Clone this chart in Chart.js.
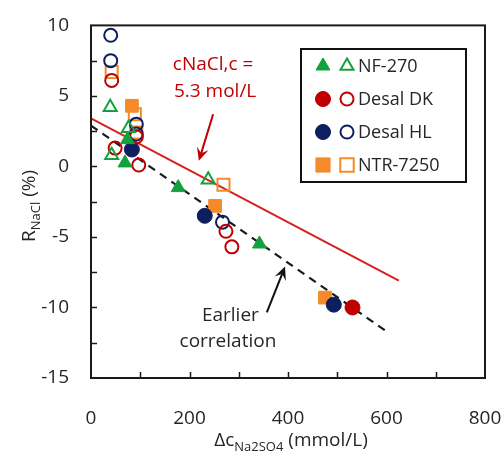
<!DOCTYPE html>
<html>
<head>
<meta charset="utf-8">
<script src="https://cdn.jsdelivr.net/npm/chart.js@4/dist/chart.umd.min.js"></script>
<style>
html,body{margin:0;padding:0;background:#fff;}
canvas{display:block;}
</style>
</head>
<body>
<canvas id="c" width="504" height="457"></canvas>
<script>
// ---- data ----
const nf270FilledX = [69, 74, 177, 342];
const nf270FilledY = [0.25, 1.9, -1.5, -5.5];
const nf270OpenX   = [39, 42, 76, 238];
const nf270OpenY   = [4.2, 0.8, 2.7, -0.94];

const desalDKFilledX = [531];
const desalDKFilledY = [-10.0];
const desalDKOpenX   = [42, 49, 97, 92, 274, 286];
const desalDKOpenY   = [6.1, 1.3, 0.1, 2.1, -4.6, -5.7];

const desalHLFilledX = [83, 231, 493];
const desalHLFilledY = [1.2, -3.5, -9.8];
const desalHLOpenX   = [40, 40, 92, 92, 267];
const desalHLOpenY   = [9.3, 7.5, 3.0, 2.3, -3.95];

const ntrFilledX = [83, 252, 475];
const ntrFilledY = [4.3, -2.8, -9.3];
const ntrOpenX   = [42, 89, 92, 269];
const ntrOpenY   = [6.7, 3.7, 2.4, -1.3];

const redLineX = [0, 625];
const redLineY = [3.4, -8.1];
const blackLineX = [0, 600];
const blackLineY = [2.9, -11.7];

const xTickValues = [0, 200, 400, 600, 800];
const yTickValues = [10, 5, 0, -5, -10, -15];
const legendLabels = ['NF-270', 'Desal DK', 'Desal HL', 'NTR-7250'];

// ---- styles ----
const GREEN = '#14a03c', RED = '#c00000', NAVY = '#0d1f5f', ORANGE = '#f58a2a';
const FONT = '"Open Sans", sans-serif';
const TXT = '#262626';

function pts(xs, ys){ return xs.map((x,i)=>({x:x, y:ys[i]})); }

function ds(label, xs, ys, color, style, filled, r){
  return {
    type:'scatter', label:label, data:pts(xs,ys), order:1,
    pointStyle:style, pointRadius:r, pointHoverRadius:r,
    borderColor:color, backgroundColor: filled ? color : 'rgba(0,0,0,0)',
    borderWidth: filled ? 1 : 2, showLine:false
  };
}

const datasets = [
  {type:'line', label:'redfit', data:pts(redLineX, redLineY), borderColor:'#d42222', borderWidth:2, pointRadius:0, order:10, fill:false},
  {type:'line', label:'blackfit', data:pts(blackLineX, blackLineY), borderColor:'#1a1a1a', borderWidth:2.2, borderDash:[8,6], pointRadius:0, order:10, fill:false},
  ds('NF-270 f', nf270FilledX, nf270FilledY, GREEN, 'triangle', true, 8),
  ds('NF-270 o', nf270OpenX, nf270OpenY, GREEN, 'triangle', false, 7.5),
  ds('DK o', desalDKOpenX, desalDKOpenY, RED, 'circle', false, 6.5),
  ds('HL o', desalHLOpenX, desalHLOpenY, NAVY, 'circle', false, 6.5),
  ds('NTR o', ntrOpenX, ntrOpenY, ORANGE, 'rect', false, 8.5),
  ds('DK f', desalDKFilledX, desalDKFilledY, RED, 'circle', true, 7.5),
  ds('HL f', desalHLFilledX, desalHLFilledY, NAVY, 'circle', true, 7.5),
  ds('NTR f', ntrFilledX, ntrFilledY, ORANGE, 'rect', true, 9)
];

function drawParts(ctx, parts, cx, cy, rot){
  ctx.save();
  ctx.translate(cx, cy);
  ctx.rotate(rot);
  let w = 0;
  parts.forEach(p=>{ ctx.font = (p.sub? '13px ' : '19px ') + FONT; p.w = ctx.measureText(p.t).width; w += p.w; });
  let x = -w/2;
  ctx.fillStyle = TXT;
  ctx.textBaseline = 'middle';
  ctx.textAlign = 'left';
  parts.forEach(p=>{ ctx.font = (p.sub? '13px ' : '19px ') + FONT; ctx.fillText(p.t, x, p.sub ? 6 : 0); x += p.w; });
  ctx.restore();
}

function arrow(ctx, x1, y1, x2, y2, color){
  const ang = Math.atan2(y2-y1, x2-x1);
  const L = 13, W = 6;
  ctx.save();
  ctx.strokeStyle = color; ctx.fillStyle = color; ctx.lineWidth = 2;
  ctx.beginPath();
  ctx.moveTo(x1, y1);
  ctx.lineTo(x2 - Math.cos(ang)*L*0.6, y2 - Math.sin(ang)*L*0.6);
  ctx.stroke();
  ctx.beginPath();
  ctx.moveTo(x2, y2);
  ctx.lineTo(x2 - Math.cos(ang)*L + Math.sin(ang)*W, y2 - Math.sin(ang)*L - Math.cos(ang)*W);
  ctx.lineTo(x2 - Math.cos(ang)*L*0.6, y2 - Math.sin(ang)*L*0.6);
  ctx.lineTo(x2 - Math.cos(ang)*L - Math.sin(ang)*W, y2 - Math.sin(ang)*L + Math.cos(ang)*W);
  ctx.closePath();
  ctx.fill();
  ctx.restore();
}

const decor = {
  id:'decor',
  afterDatasetsDraw(chart){
    const ctx = chart.ctx, a = chart.chartArea;
    const xs = chart.scales.x, ys = chart.scales.y;
    ctx.save();
    // frame
    ctx.strokeStyle = '#1a1a1a'; ctx.lineWidth = 2;
    ctx.strokeRect(a.left, a.top, a.right - a.left, a.bottom - a.top);
    // inward tick marks
    ctx.lineWidth = 1.5;
    ctx.beginPath();
    for (let v = 100; v < 800; v += 100){
      const px = Math.round(xs.getPixelForValue(v)) + 0.5;
      ctx.moveTo(px, a.bottom); ctx.lineTo(px, a.bottom - 6);
    }
    for (let v = -12.5; v < 10; v += 2.5){
      const py = Math.round(ys.getPixelForValue(v)) + 0.5;
      ctx.moveTo(a.left, py); ctx.lineTo(a.left + 6, py);
    }
    ctx.stroke();

    // annotations
    ctx.font = '19px ' + FONT;
    ctx.textAlign = 'center'; ctx.textBaseline = 'middle';
    ctx.fillStyle = RED;
    ctx.fillText('cNaCl,c =', xs.getPixelForValue(248), ys.getPixelForValue(7.2));
    ctx.fillText('5.3 mol/L', xs.getPixelForValue(252), ys.getPixelForValue(5.3));
    arrow(ctx, xs.getPixelForValue(248), ys.getPixelForValue(3.7), xs.getPixelForValue(219), ys.getPixelForValue(0.4), RED);

    ctx.fillStyle = TXT;
    ctx.font = '19px ' + FONT;
    ctx.fillText('Earlier', xs.getPixelForValue(283), ys.getPixelForValue(-10.55));
    ctx.fillText('correlation', xs.getPixelForValue(278), ys.getPixelForValue(-12.45));
    arrow(ctx, xs.getPixelForValue(357), ys.getPixelForValue(-10.35), xs.getPixelForValue(394), ys.getPixelForValue(-7.1), '#111');

    // legend
    const lx = 301, ly = 49, lw = 165, lh = 133;
    ctx.fillStyle = '#fff';
    ctx.fillRect(lx, ly, lw, lh);
    ctx.strokeStyle = '#111'; ctx.lineWidth = 2;
    ctx.strokeRect(lx, ly, lw, lh);
    const rows = [
      {c:GREEN, s:'triangle', rf:8, ro:7.5},
      {c:RED, s:'circle', rf:7.5, ro:6.5},
      {c:NAVY, s:'circle', rf:7.5, ro:6.5},
      {c:ORANGE, s:'rect', rf:10, ro:9.5}
    ];
    rows.forEach((r,i)=>{
      const y = ly + 17 + i*33;
      ctx.fillStyle = r.c; ctx.strokeStyle = r.c; ctx.lineWidth = 1;
      Chart.helpers.drawPoint(ctx, {pointStyle:r.s, radius:r.rf, rotation:0, borderWidth:1}, lx + 22, y);
      ctx.fill();
      ctx.fillStyle = 'rgba(0,0,0,0)'; ctx.lineWidth = 2;
      Chart.helpers.drawPoint(ctx, {pointStyle:r.s, radius:r.ro, rotation:0, borderWidth:2}, lx + 46, y);
      ctx.fillStyle = TXT;
      ctx.font = '18px ' + FONT;
      ctx.textAlign = 'left'; ctx.textBaseline = 'middle';
      ctx.fillText(legendLabels[i], lx + 57, y + 1);
    });
    ctx.restore();

    // axis titles with subscripts
    drawParts(ctx, [{t:'Δc'},{t:'Na2SO4', sub:true},{t:' (mmol/L)'}], (a.left + a.right)/2 + 3, 441, 0);
    drawParts(ctx, [{t:'R'},{t:'NaCl', sub:true},{t:' (%)'}], 30, ys.getPixelForValue(-2.8), -Math.PI/2);
  }
};

new Chart(document.getElementById('c'), {
  data:{datasets:datasets},
  options:{
    responsive:false, animation:false, devicePixelRatio:1,
    layout:{padding:{top:16, right:19, left:0, bottom:0}},
    plugins:{legend:{display:false}, tooltip:{enabled:false}},
    scales:{
      x:{type:'linear', min:0, max:800,
         afterBuildTicks(s){ s.ticks = xTickValues.map(v=>({value:v})); },
         afterFit(s){ s.height = 79; s.paddingLeft = 0; s.paddingRight = 0; },
         grid:{display:false}, border:{display:false},
         ticks:{padding:21, color:TXT, font:{family:FONT, size:19}, maxRotation:0, autoSkip:false}},
      y:{type:'linear', min:-15, max:10,
         afterBuildTicks(s){ s.ticks = yTickValues.map(v=>({value:v})); },
         afterFit(s){ s.width = 91; },
         grid:{display:false}, border:{display:false},
         ticks:{padding:14, color:TXT, font:{family:FONT, size:19}, autoSkip:false}}
    }
  },
  plugins:[decor]
});
</script>
</body>
</html>
